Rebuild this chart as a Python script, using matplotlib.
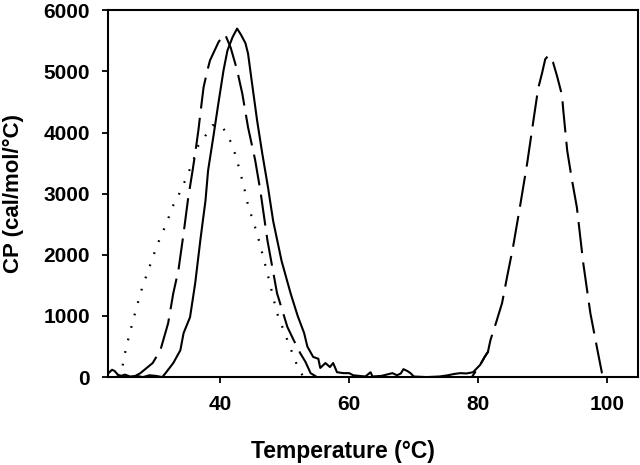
import matplotlib
matplotlib.use("Agg")
import matplotlib.pyplot as plt

# solid curve (first transition, with noisy baseline)
solid_t = [22.6, 23.2, 23.6, 24.1, 24.6, 25.2, 26.0, 27.0, 28.0, 29.0, 30.0, 31.0, 31.5,
           32.7, 33.8, 34.3, 35.3, 36.1, 36.9, 37.7, 38.1, 38.9, 39.7, 40.5, 41.1, 41.9,
           42.6, 43.2, 43.9, 44.3, 45.0, 45.7, 46.5, 47.4, 48.2, 49.5, 50.9, 52.0, 53.0,
           53.5, 54.4, 55.2, 55.5, 56.3, 57.0, 57.5, 58.1, 59.1, 60.0, 60.6, 61.5, 62.5,
           63.3, 63.6, 65.0, 66.7, 67.4, 68.0, 68.4, 69.0, 69.5, 70.0, 72.0, 74.0, 75.3,
           76.2, 77.2, 78.2, 79.2, 80.3, 81.0, 81.5]
solid_cp = [60, 120, 100, 40, 20, 40, 10, 20, 0, 30, 20, 0, 65,
            230, 440, 720, 980, 1535, 2240, 2890, 3380, 3920, 4480, 5020, 5340, 5560,
            5700, 5600, 5460, 5290, 4740, 4200, 3660, 3100, 2550, 1900, 1370, 1000, 720,
            500, 330, 300, 150, 230, 165, 230, 80, 65, 65, 30, 20, 10,
            80, 10, 20, 65, 30, 60, 130, 100, 65, 10, 0, 10, 30,
            50, 65, 60, 80, 200, 330, 410]

# dashed curve (two transitions)
dashed_t = [26.5, 27.6, 29.5, 30.7, 31.9, 32.7, 33.5, 34.3, 35.0, 35.7, 36.1, 36.6, 36.9,
            37.4, 38.0, 38.4, 39.7, 40.5, 40.8, 41.6, 42.6, 43.4, 44.3, 45.4, 46.2, 46.8,
            47.3, 48.8, 50.4, 51.4, 52.4, 53.2, 54.0, 55.0, 79.0, 80.3, 81.0, 81.5, 81.9,
            82.8, 83.7, 84.5, 85.4, 86.5, 87.6, 88.5, 89.3, 89.9, 90.4, 90.9, 91.6, 92.2,
            93.0, 93.2, 93.8, 94.5, 95.3, 96.3, 97.4, 98.5, 99.2, 99.5]
dashed_cp = [0, 65, 230, 440, 880, 1370, 1750, 2350, 2920, 3380, 3660, 4040, 4310,
             4740, 5020, 5180, 5475, 5600, 5590, 5390, 5020, 4640, 4085, 3550, 3055, 2610,
             2240, 1370, 820, 600, 390, 250, 65, 0, 0, 200, 330, 410, 605,
             900, 1210, 1650, 2125, 2800, 3500, 4150, 4720, 4970, 5200, 5260, 5150, 4935,
             4610, 4360, 3710, 3250, 2780, 1860, 1045, 440, 65, 0]

# dotted curve
dotted_t = [24.0, 24.8, 25.4, 26.2, 27.0, 27.9, 29.1, 30.2, 31.5, 32.7, 33.5, 34.9, 36.1,
            36.6, 37.7, 38.8, 40.3, 41.1, 41.9, 42.8, 43.6, 44.3, 45.7, 47.3, 48.8, 50.4,
            52.0, 52.9]
dotted_cp = [0, 165, 490, 820, 1140, 1470, 1830, 2160, 2480, 2810, 2970, 3300, 3630,
             3790, 3950, 4120, 4100, 3950, 3790, 3460, 3140, 2810, 2350, 1700, 1045, 605,
             165, 0]

x_ticks = [40, 60, 80, 100]
y_ticks = [0, 1000, 2000, 3000, 4000, 5000, 6000]

plt.rcParams["font.family"] = ["Liberation Sans", "DejaVu Sans"]
plt.rcParams["font.weight"] = "bold"

fig = plt.figure(figsize=(6.4, 4.65), dpi=100)
ax = fig.add_axes([0.169, 0.189, 0.828, 0.789])

ax.plot(solid_t, solid_cp, color="black", lw=1.5, linestyle="-")
ax.plot(dashed_t, dashed_cp, color="black", lw=1.5, linestyle=(0, (15, 4.5)))
ax.plot(dotted_t, dotted_cp, color="black", lw=1.6, linestyle=(0, (0.8, 5)))

ax.set_xlim(22.6, 104.8)
ax.set_ylim(0, 6000)
ax.set_xticks(x_ticks)
ax.set_yticks(y_ticks)

for s in ax.spines.values():
    s.set_linewidth(1.5)
ax.tick_params(direction="out", length=4, width=1.3, labelsize=15, pad=9)

ax.set_xlabel("Temperature (°C)", fontsize=16.5, fontweight="bold")
ax.set_ylabel("CP (cal/mol/°C)", fontsize=16, fontweight="bold")
ax.xaxis.set_label_coords(0.443, -0.172)
ax.yaxis.set_label_coords(-0.158, 0.5)

fig.savefig("out.png", dpi=100)
